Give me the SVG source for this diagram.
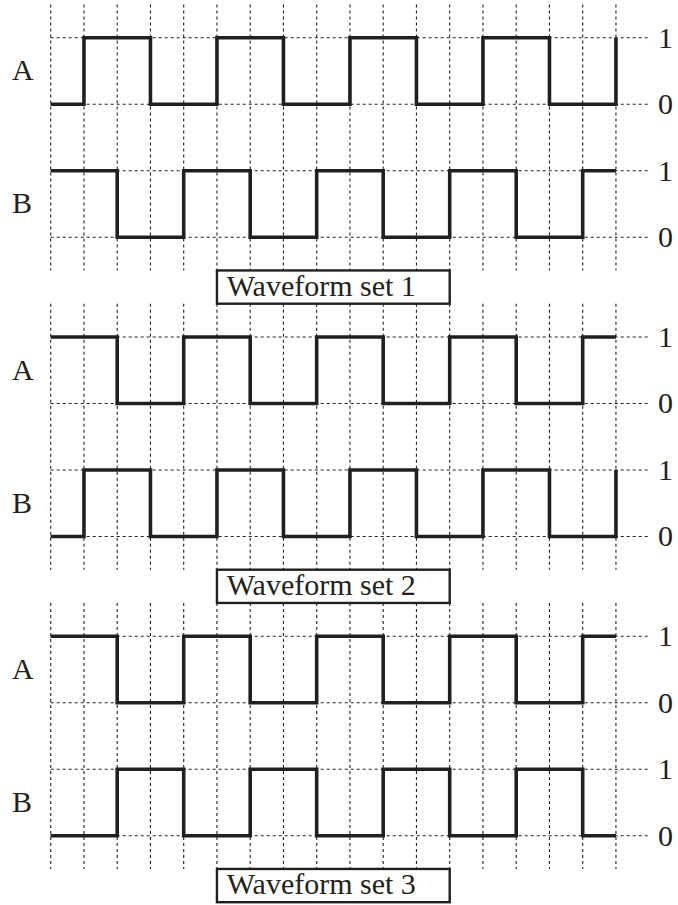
<svg xmlns="http://www.w3.org/2000/svg" xmlns:xlink="http://www.w3.org/1999/xlink" width="678" height="905" viewBox="0 0 678 905">
<style>
.grid{fill:none;stroke:#231f20;stroke-width:1.1;stroke-dasharray:3 3}
.wave{fill:none;stroke:#231f20;stroke-width:3.6;stroke-linejoin:miter;stroke-linecap:butt}
.box{fill:#fff;stroke:#231f20;stroke-width:2.4}
.lbl{font-family:"Liberation Serif","Times New Roman",serif;font-size:30px;fill:#231f20}
.sig{text-anchor:middle}
</style>
<defs>
<g id="grid">
<path class="grid" d="M50.7,0V266M83.95,0V266M117.2,0V266M150.45,0V266M183.7,0V266M216.95,0V266M250.2,0V266M283.45,0V266M316.7,0V266M349.95,0V266M383.2,0V266M416.45,0V266M449.7,0V266M482.95,0V266M516.2,0V266M549.45,0V266M582.7,0V266M615.95,0V266"/>
<path class="grid" d="M50.7,33.25H649.2M50.7,99.75H649.2M50.7,166.25H649.2M50.7,232.75H649.2"/>
</g>
<path id="p1" class="wave" d="M50.7,66.5H83.95V0H150.45V66.5H216.95V0H283.45V66.5H349.95V0H416.45V66.5H482.95V0H549.45V66.5H615.95V0"/>
<path id="p2" class="wave" d="M50.7,0H117.2V66.5H183.7V0H250.2V66.5H316.7V0H383.2V66.5H449.7V0H516.2V66.5H582.7V0H615.95"/>
<path id="p3" class="wave" d="M50.7,66.5H117.2V0H183.7V66.5H250.2V0H316.7V66.5H383.2V0H449.7V66.5H516.2V0H582.7V66.5H615.95"/>
</defs>

<g id="set1" transform="translate(0,4.45)">
<use xlink:href="#grid" href="#grid"/>
<use xlink:href="#p1" href="#p1" y="33.25"/>
<use xlink:href="#p2" href="#p2" y="166.25"/>
<text class="lbl" x="12" y="76">A</text>
<text class="lbl" x="12" y="209">B</text>
<text class="lbl sig" x="665.5" y="43.25">1</text>
<text class="lbl sig" x="665.5" y="109.75">0</text>
<text class="lbl sig" x="665.5" y="176.25">1</text>
<text class="lbl sig" x="665.5" y="242.75">0</text>
<g id="label1">
<rect class="box" x="216.95" y="266" width="232.75" height="33.25"/>
<text class="lbl" x="226.7" y="291.25">Waveform set 1</text>
</g>
</g>

<g id="set2" transform="translate(0,303.7)">
<use xlink:href="#grid" href="#grid"/>
<use xlink:href="#p2" href="#p2" y="33.25"/>
<use xlink:href="#p1" href="#p1" y="166.25"/>
<text class="lbl" x="12" y="76">A</text>
<text class="lbl" x="12" y="209">B</text>
<text class="lbl sig" x="665.5" y="43.25">1</text>
<text class="lbl sig" x="665.5" y="109.75">0</text>
<text class="lbl sig" x="665.5" y="176.25">1</text>
<text class="lbl sig" x="665.5" y="242.75">0</text>
<g id="label2">
<rect class="box" x="216.95" y="266" width="232.75" height="33.25"/>
<text class="lbl" x="226.7" y="291.25">Waveform set 2</text>
</g>
</g>

<g id="set3" transform="translate(0,602.95)">
<use xlink:href="#grid" href="#grid"/>
<use xlink:href="#p2" href="#p2" y="33.25"/>
<use xlink:href="#p3" href="#p3" y="166.25"/>
<text class="lbl" x="12" y="76">A</text>
<text class="lbl" x="12" y="209">B</text>
<text class="lbl sig" x="665.5" y="43.25">1</text>
<text class="lbl sig" x="665.5" y="109.75">0</text>
<text class="lbl sig" x="665.5" y="176.25">1</text>
<text class="lbl sig" x="665.5" y="242.75">0</text>
<g id="label3">
<rect class="box" x="216.95" y="266" width="232.75" height="33.25"/>
<text class="lbl" x="226.7" y="291.25">Waveform set 3</text>
</g>
</g>
</svg>
